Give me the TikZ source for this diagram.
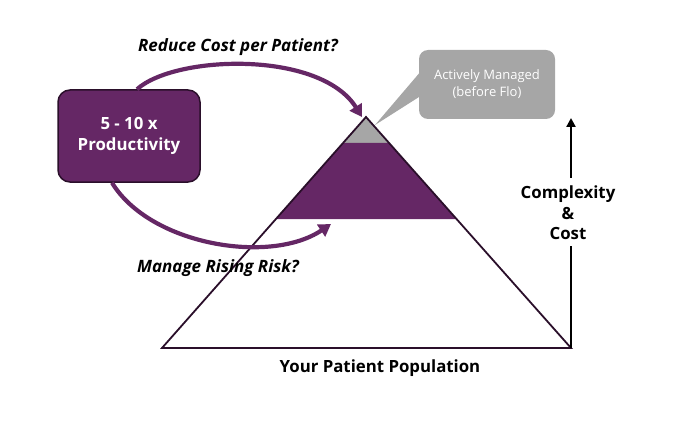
\documentclass[tikz,border=0pt]{standalone}
\usepackage{fontspec}
\setmainfont{Open Sans}
\usetikzlibrary{arrows.meta,calc}
\definecolor{flopurple}{HTML}{652765}
\definecolor{floedge}{HTML}{2A0F2A}
\definecolor{flogray}{HTML}{A6A6A6}
\tikzset{
  flolabel/.style={font=\fontsize{17}{20}\selectfont\bfseries\itshape, text=black, inner sep=0pt},
  axislabel/.style={font=\fontsize{16.8}{20.5}\selectfont\bfseries, text=black, inner sep=0pt, align=center},
  floarrow/.style={draw=flopurple, line width=4.2pt, -{Triangle[length=12pt,width=14pt]}},
  pyr/.style={draw=floedge, line width=1.8pt, line join=miter},
}
\begin{document}
\begin{tikzpicture}[x=1pt,y=-1pt]
\useasboundingbox (0,0) rectangle (684,422);
% pyramid coordinates
\coordinate (apex) at (366,117);
\coordinate (bl) at (162,348);
\coordinate (br) at (571,348);
\coordinate (g1) at (343.0,143);
\coordinate (g2) at (389.1,143);
\coordinate (p1) at (276.0,219);
\coordinate (p2) at (456.5,219);
% fills
\fill[flogray] (apex) -- (g1) -- (g2) -- cycle;
\fill[flopurple] (g1) -- (g2) -- (p2) -- (p1) -- cycle;
\draw[pyr] (apex) -- (bl) -- (br) -- cycle;
% callout
\node[fill=flogray, rounded corners=9pt, minimum width=136pt, minimum height=69pt, inner sep=0pt,
      text=white, align=center, font=\fontsize{13}{17}\selectfont] (call) at (487,84.5)
      {Actively Managed\\(before Flo)};
\coordinate (tip) at (375,125);
\fill[flogray] ($(call.west)+(1,-12)$) -- (tip) -- ($(call.west)+(1,12)$) -- cycle;
% productivity box
\node[fill=flopurple, draw=floedge, line width=1.5pt, rounded corners=12pt, minimum width=142pt,
      minimum height=92pt, inner sep=0pt, text=white, align=center,
      font=\fontsize{16.8}{21}\selectfont\bfseries] (box) at (129,136) {5 - 10 x\\Productivity};
% arrows
\coordinate (t1) at (362,117);
\coordinate (t2) at (331,224);
\draw[floarrow] ([xshift=8pt]box.north) .. controls (175,55) and (320,50) .. (t1);
\draw[floarrow] ([xshift=-17pt]box.south) .. controls (150,245) and (270,265) .. (t2);
% labels
\node[flolabel] (l1) at (238,47) {Reduce Cost per Patient?};
\node[flolabel] (l2) at (218,268) {Manage Rising Risk?};
\node[axislabel] (l3) at (380,368) {Your Patient Population};
\node[axislabel] (l4) at (568,213) {Complexity\\\&\\Cost};
% vertical axis
\coordinate (axtop) at (571,118);
\draw[line width=2.8pt] (br) -- ([yshift=-6pt]l4.south -| br);
\draw[line width=2.8pt, -{Triangle[length=9pt,width=9pt]}] ([yshift=8pt]l4.north -| br) -- (axtop);
\end{tikzpicture}
\end{document}
